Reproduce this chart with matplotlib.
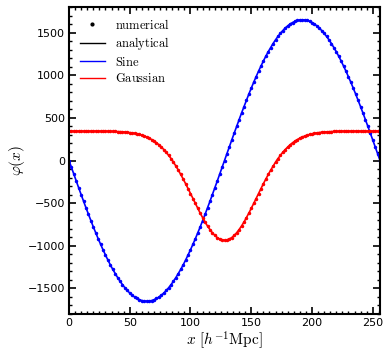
import numpy as np
import matplotlib
matplotlib.use("Agg")
import matplotlib.pyplot as plt
from matplotlib.lines import Line2D
from matplotlib.ticker import MultipleLocator

# grid positions in h^-1 Mpc
x = np.arange(0, 257, 2)

# potential for the sine density field
phi_sine = [
    0, -81, -162, -242, -322, -401, -479, -556, -631, -706, -778, -848, -917, -983, -1047, -1108,
    -1167, -1223, -1276, -1325, -1372, -1415, -1455, -1492, -1524, -1554, -1579, -1601, -1618, -1632,
    -1642, -1648, -1650, -1648, -1642, -1632, -1618, -1601, -1579, -1554, -1524, -1492, -1455, -1415,
    -1372, -1325, -1276, -1223, -1167, -1108, -1047, -983, -917, -848, -778, -706, -631, -556, -479,
    -401, -322, -242, -162, -81, 0, 81, 162, 242, 322, 401, 479, 556, 631, 706, 778, 848, 917, 983,
    1047, 1108, 1167, 1223, 1276, 1325, 1372, 1415, 1455, 1492, 1524, 1554, 1579, 1601, 1618, 1632,
    1642, 1648, 1650, 1648, 1642, 1632, 1618, 1601, 1579, 1554, 1524, 1492, 1455, 1415, 1372, 1325,
    1276, 1223, 1167, 1108, 1047, 983, 917, 848, 778, 706, 631, 556, 479, 401, 322, 242, 162, 81, 0,
]

# potential for the gaussian density field
phi_gauss = [
    345, 345, 345, 345, 345, 345, 345, 345, 345, 345, 345, 345, 345, 344, 344, 344, 343, 343, 342,
    341, 340, 338, 337, 334, 332, 328, 324, 319, 313, 306, 297, 287, 276, 262, 246, 228, 208, 185,
    158, 129, 97, 61, 23, -19, -65, -113, -164, -217, -272, -329, -387, -446, -504, -562, -618, -671,
    -722, -768, -810, -847, -878, -903, -920, -931, -935, -931, -920, -903, -878, -847, -810, -768,
    -722, -671, -618, -562, -504, -446, -387, -329, -272, -217, -164, -113, -65, -19, 23, 61, 97, 129,
    158, 185, 208, 228, 246, 262, 276, 287, 297, 306, 313, 319, 324, 328, 332, 334, 337, 338, 340,
    341, 342, 343, 343, 344, 344, 344, 345, 345, 345, 345, 345, 345, 345, 345, 345, 345, 345, 345, 345,
]

plt.rcParams['mathtext.fontset'] = 'cm'

fig = plt.figure(figsize=(3.91, 3.59), dpi=100)
ax = fig.add_axes([0.1765, 0.1253, 0.7954, 0.8552])

# analytical lines + numerical dots
ax.plot(x, phi_sine, color='blue', lw=1.2)
ax.plot(x, phi_sine, '.', color='blue', ms=3)
ax.plot(x, phi_gauss, color='red', lw=1.2)
ax.plot(x, phi_gauss, '.', color='red', ms=3)

ax.set_xlim(0, 256)
ax.set_ylim(-1800, 1800)
ax.xaxis.set_major_locator(MultipleLocator(50))
ax.xaxis.set_minor_locator(MultipleLocator(5))
ax.yaxis.set_major_locator(MultipleLocator(500))
ax.yaxis.set_minor_locator(MultipleLocator(100))
ax.tick_params(which='both', direction='in', top=True, right=True, labelsize=8)
ax.tick_params(which='major', length=5, width=1.2, pad=3)
ax.tick_params(which='minor', length=2.5, width=1.0)
for s in ax.spines.values():
    s.set_linewidth(1.5)

ax.set_xlabel(r'$x\ [h^{-1}\mathrm{Mpc}]$', fontsize=11, labelpad=1)
ax.set_ylabel(r'$\varphi(x)$', fontsize=11, labelpad=0)

handles = [
    Line2D([], [], ls='none', marker='.', color='black', ms=4),
    Line2D([], [], color='black', lw=1.0),
    Line2D([], [], color='blue', lw=1.0),
    Line2D([], [], color='red', lw=1.0),
]
labels = [r'$\mathrm{numerical}$', r'$\mathrm{analytical}$', r'$\mathrm{Sine}$', r'$\mathrm{Gaussian}$']
ax.legend(handles, labels, loc='upper left', frameon=False, fontsize=9,
          handlelength=2.0, handletextpad=0.8, labelspacing=0.28, borderaxespad=0.45)

fig.savefig('out.png', dpi=100)
